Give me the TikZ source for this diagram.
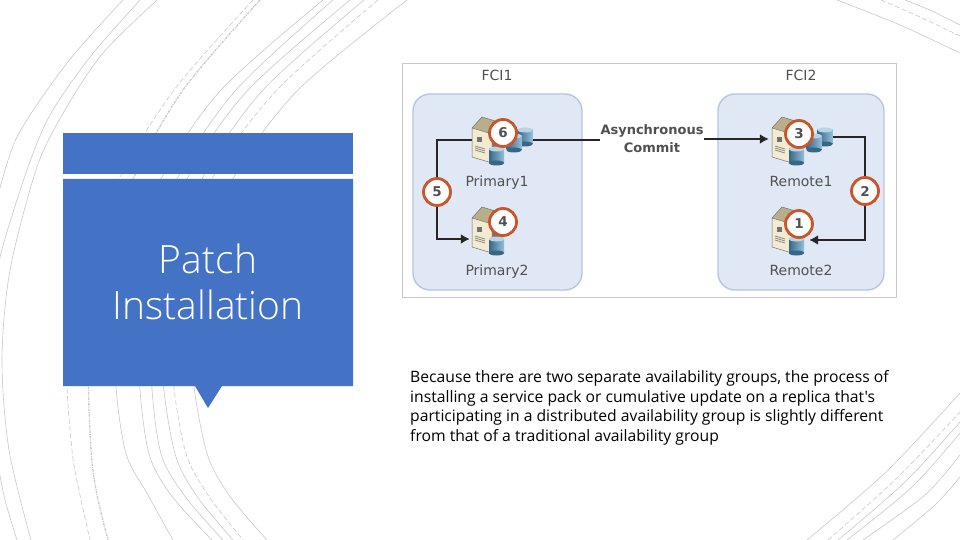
\documentclass[tikz,border=0pt]{standalone}
\usepackage{fontspec}
\usepackage{tikz}
\usepackage{xcolor}
\usetikzlibrary{arrows.meta,positioning,calc}
\newfontfamily\bodyfont{Open Sans}
\newfontfamily\titlefont{Open Sans Light}
\newfontfamily\figfont{DejaVu Sans}
\definecolor{cB}{HTML}{4472C4}
\definecolor{cG}{HTML}{C8C8C8}
\definecolor{cP}{HTML}{DFE8F4}
\definecolor{cE}{HTML}{B4C7E0}
\definecolor{cO}{HTML}{C9552B}
\definecolor{cK}{HTML}{262626}
\definecolor{cT}{HTML}{505050}
\definecolor{cD}{HTML}{4F93BF}
\definecolor{cS}{HTML}{F2EBCF}
\definecolor{cU}{HTML}{B9AE8C}
\tikzset{
  arcline/.style={cG,line width=.6pt},
  arcdash/.style={arcline,dash pattern=on 5pt off 2.5pt},
  arcdot/.style={cG,line width=1.3pt,dash pattern=on 2.5pt off 1pt on 1pt off 1pt},
  panel/.style={rounded corners=17pt,draw=cE,line width=1.4pt,fill=cP},
  hostbox/.style={inner sep=0pt,minimum height=24pt},
  stepnum/.style={circle,draw=cO,line width=2.8pt,fill=white,minimum size=27pt,
              inner sep=0pt,text=cK!80,font=\figfont\bfseries\fontsize{13.5}{14}\selectfont},
  figlabel/.style={text=cT,align=center,inner sep=0pt,
              font=\figfont\fontsize{14}{18}\selectfont},
  link/.style={cK,line width=1.8pt},
  linkto/.style={link,-{Latex[length=9pt,width=10pt]}},
  pics/disc/.style={code={
    \fill[left color=cD!70!black,right color=cD!60!white] (-7.5,-7) rectangle (7.5,7);
    \fill[cD!70!black] (0,7) ellipse (7.5 and 2.5);
    \fill[cD!40!white] (0,-7) ellipse (7.5 and 2.5);
  }},
  pics/tower/.style={code={
    \fill[black!55] (20,17) -- (30,6) -- (30,35) -- (20,46) -- cycle;
    \fill[cU] (0,11) -- (10,0) -- (30,6) -- (20,17) -- cycle;
    \fill[cS] (0,11) -- (20,17) -- (20,46) -- (0,40) -- cycle;
    \draw[black!55,line width=.5pt] (0,11) -- (10,0) -- (30,6) -- (30,35) -- (20,46) -- (0,40) -- cycle (0,11) -- (20,17) -- (20,46);
    \foreach \i in {0,2,4}{
      \draw[black!50,line width=.7pt] (3,{29+\i}) -- (13,{32+\i});
    }
    \fill[black!55] (5,20) rectangle (10,25);
  }},
}
\begin{document}
\begin{tikzpicture}[x=1pt,y=-1pt]
  \useasboundingbox (0,0) rectangle (960,540);
  \clip (0,0) rectangle (960,540);
  % background arcs
  \draw[arcline] plot[smooth] coordinates {(123,0)(67,63)(17,137)(-3,200)};
  \draw[arcline] plot[smooth] coordinates {(140,0)(90,57)(50,115)(27,170)(1,253)(-3,290)};
  \draw[arcline] plot[smooth] coordinates {(157,0)(103,53)(65,110)(37,167)(10,270)(2,360)(9,450)(31,540)};
  \draw[arcline] plot[smooth] coordinates {(-2,465)(5,500)(17,540)};
  \draw[arcdash] plot[smooth] coordinates {(253,0)(174,90)(120,177)(84,270)(67,360)(72,450)(80,495)(90,540)};
  \draw[arcdot] plot[smooth] coordinates {(260,0)(183,90)(134,177)(103,270)(89,360)(91,450)(97,495)(108,540)};
  \foreach \xa/\xb/\xc/\xd/\xe/\xf/\xg/\xh in {323/221/162/131/115/125/148/173,333/236/178/153/139/148/171/212,
    350/248/188/164/151/160/184/223,364/263/203/176/162/174/196/233,407/298/234/206/192/206/229/267}{
    \draw[arcline] plot[smooth] coordinates {(\xa,0)(\xb,90)(\xc,177)(\xd,270)(\xe,360)(\xf,450)(\xg,495)(\xh,540)};
  }
  \draw[arcdash] plot[smooth] coordinates {(378,0)(277,90)(213,177)(186,270)(172,360)(185,450)(208,495)(243,540)};
  % corners on the right
  \draw[arcline] plot[smooth] coordinates {(837,0)(900,25)(960,53)};
  \draw[arcdash] plot[smooth] coordinates {(881,0)(920,17)(960,36)};
  \draw[arcline] plot[smooth] coordinates {(905,0)(932,11)(960,25)};
  \foreach \xa/\xb/\yb/\yc in {807/886/472/393,838/905/482/422,847/912/487/433,863/925/495/455,893/935/505/477}{
    \draw[arcline] plot[smooth] coordinates {(\xa,540)(\xb,\yb)(960,\yc)};
  }
  \draw[arcdash] plot[smooth] coordinates {(828,540)(897,478)(960,412)};
  % title block
  \fill[cB] (63,133) rectangle (353,174);
  \fill[cB] (63,179) -- (353,179) -- (353,386) -- (222,386) -- (208,408) -- (195,386) -- (63,386) -- cycle;
  \node[text=white,align=center,inner sep=0pt,font=\titlefont\fontsize{39}{46}\selectfont] (title) at (208,282) {Patch\\Installation};
  % figure
  \draw[cG,line width=1pt,fill=white] (402.5,64) rectangle (896.5,297);
  \node[panel,minimum width=169pt,minimum height=196pt] (fci1) at (497.5,192) {};
  \node[panel,minimum width=166pt,minimum height=196pt] (fci2) at (801,192) {};
  \node[figlabel] (fci1lab) at (497,75) {FCI1};
  \node[figlabel] (fci2lab) at (801,75) {FCI2};
  \node[figlabel,font=\figfont\bfseries\fontsize{13}{18}\selectfont] (async) at (652,139) {Asynchronous\\Commit};
  \node[hostbox,minimum width=60pt] (primary1) at (502,140) {};
  \node[hostbox,minimum width=36pt] (primary2) at (488,239) {};
  \node[hostbox,minimum width=64pt] (remote1) at (801,139) {};
  \node[hostbox,minimum width=36pt] (remote2) at (791,240) {};
  \node[stepnum] (five) at (437,192) {5};
  \node[stepnum] (two) at (865,191) {2};
  \draw[link] (primary1.west) -| (five);
  \draw[linkto] (five) |- (primary2.west);
  \draw[link] (primary1.east) -- (async.west |- primary1.east);
  \draw[linkto] (async.east |- remote1.west) -- (remote1.west);
  \draw[link] ([yshift=2pt]remote1.east) -| (two);
  \draw[linkto] (two) |- (remote2.east);
  % servers
  \foreach \dx in {0,300}{
    \begin{scope}[xshift=\dx pt]
      \pic at (472,117) {tower};
      \pic at (472,207) {tower};
      \pic at (525,137) {disc};
      \pic at (514,143) {disc};
      \pic at (496.5,156) {disc};
      \pic at (496.5,246) {disc};
    \end{scope}
  }
  \node[stepnum] (six) at (503,133) {6};
  \node[stepnum] (four) at (503,222) {4};
  \node[stepnum] (three) at (799,134) {3};
  \node[stepnum] (one) at (799,224) {1};
  \node[figlabel] (pri1lab) at (497,182.5) {Primary1};
  \node[figlabel] (pri2lab) at (497,271.5) {Primary2};
  \node[figlabel] (rem1lab) at (801,181) {Remote1};
  \node[figlabel] (rem2lab) at (801,270) {Remote2};
  % text
  \node[anchor=north west,align=left,inner sep=0pt,font=\bodyfont\fontsize{15.7}{19.5}\selectfont] (body) at (410,370.5)
    {Because there are two separate availability groups, the process of\\
     installing a service pack or cumulative update on a replica that's\\
     participating in a distributed availability group is slightly different\\
     from that of a traditional availability group};
\end{tikzpicture}
\end{document}
